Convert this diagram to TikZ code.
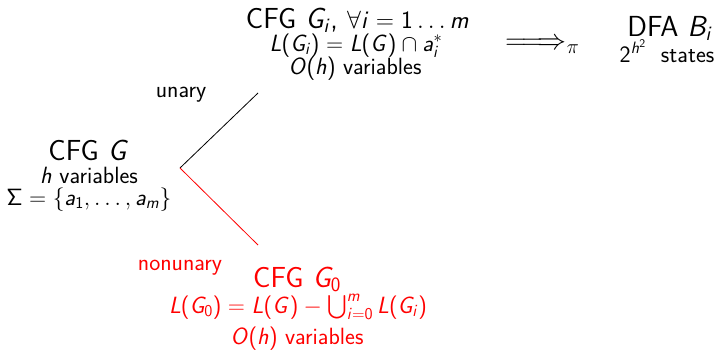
\RequirePackage{fix-cm}
\documentclass[tikz,border=0pt]{standalone}
\usepackage{amsmath,amssymb}
\SetSymbolFont{operators}{normal}{OT1}{cmss}{m}{n}
\DeclareSymbolFont{sfit}{OT1}{cmss}{m}{sl}
\makeatletter
\count@=`a
\loop \mathcode\count@=\numexpr"7000+\symsfit*"100+\count@\relax
  \advance\count@ 1 \ifnum\count@<123 \repeat
\count@=`A
\loop \mathcode\count@=\numexpr"7000+\symsfit*"100+\count@\relax
  \advance\count@ 1 \ifnum\count@<91 \repeat
\makeatother
\begin{document}
\begin{tikzpicture}[x=1pt,y=-1pt,
  big/.style={font=\sffamily\fontsize{29}{32}\selectfont,inner sep=0pt,anchor=base},
  small/.style={font=\sffamily\fontsize{23.5}{26}\selectfont,inner sep=0pt,anchor=base},
  redtxt/.style={text=red}]
\useasboundingbox (0,0) rectangle (717,351);
% top block
\node[big] (gi1) at (357.5,28) {CFG $G_i$, {\fontsize{25}{28}\selectfont$\forall i=1\ldots m$}};
\node[small] (gi2) at (356,51) {$L(G_i)=L(G)\cap a_i^*$};
\node[small] (gi3) at (355,74) {$O(h)$ variables};
% arrow
\node[big,anchor=base west] (arr) at (505,49) {$\Relbar\joinrel\Longrightarrow_\pi$};
% DFA
\node[big] (dfa1) at (670,36) {DFA $B_i$};
\node[small] (dfa2) at (667,62) {$2^{h^2}$ \ states};
% left block
\node[big] (g1) at (89,160) {CFG $G$};
\node[small] (g2) at (89,183) {$h$ variables};
\node[small] (g3) at (89,205) {$\Sigma=\{a_1,\ldots,a_m\}$};
% labels
\node[small] (un) at (181,97) {unary};
\node[small,redtxt] (nu) at (180,270) {nonunary};
% bottom block
\node[big,redtxt] (g01) at (297,287) {CFG $G_0$};
\node[small,redtxt] (g02) at (298,313) {$L(G_0)=L(G)-\bigcup_{i=0}^m L(G_i)$};
\node[small,redtxt] (g03) at (297,344) {$O(h)$ variables};
% connectors
\coordinate (fork) at (180,168);
\coordinate (uend) at (258,93);
\coordinate (nend) at (258,245);
\draw[black,line width=0.8pt] (fork) -- (uend);
\draw[red,line width=0.8pt] (fork) -- (nend);
\end{tikzpicture}
\end{document}
